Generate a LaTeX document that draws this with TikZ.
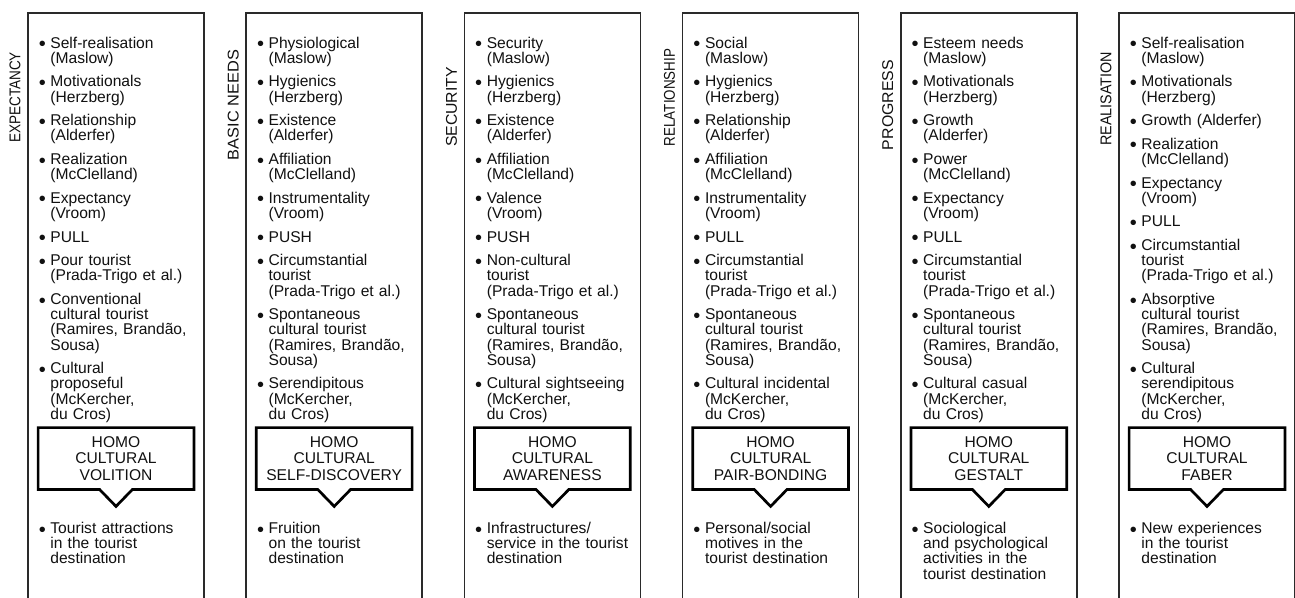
\documentclass[tikz,border=0pt]{standalone}
\usepackage{fontspec}
\usepackage{graphicx}
\setmainfont{Liberation Sans}
\usetikzlibrary{calc}
\definecolor{linegray}{HTML}{2A2A2A}
\definecolor{textc}{HTML}{111111}
\newcommand\nl{\hfil\break}
\newcommand\bul{\makebox[5.8pt][l]{\raisebox{-1.3pt}{\fontsize{10pt}{0pt}\selectfont\textbullet}}}
\newcommand\itmf[1]{\noindent\hangindent=5.8pt\hangafter=1\bul#1\par}
\newcommand\itm[1]{\vskip4.2pt\itmf{#1}}
\newcommand\itemfont{\fontsize{7.8pt}{7.6pt}\selectfont}
\newcommand\homofont{\fontsize{7.8pt}{8.15pt}\selectfont}
\tikzset{
  colline/.style={draw=linegray, line width=0.85pt},
  callout/.style={draw=black, line width=1.35pt, line join=miter},
  items/.style={inner sep=0pt, text width=82pt, font=\itemfont, anchor=north west, text=textc,
    execute at begin node={\setlength\parskip{0pt}\setlength\parindent{0pt}}},
  sidelabel/.style={rotate=90, anchor=center, inner sep=0pt, font=\itemfont, text=textc},
  homo/.style={minimum width=77.5pt, minimum height=30.5pt, inner sep=0pt, align=center, font=\homofont, text=textc}
}
\newcommand\mkcol[8]{%
  \pgfmathsetmacro\colL{#2}\pgfmathsetmacro\colR{#2+176}\pgfmathsetmacro\colC{#2+88}%
  \draw[colline] (\colL,598) -- (\colL,13) -- (\colR,13) -- (\colR,598);
  \node[sidelabel] (lab#1) at (\colL-13,#4) {\scalebox{#5}[1]{#3}};
  \node[items] (list#1) at (\colL+10.4,36.5) {#6};
  \node[homo] (homo#1) at (\colC,458.5) {#7};
  \draw[callout] (homo#1.north west) -- (homo#1.north east) -- (homo#1.south east)
    -- ($(homo#1.south)+(16.5,0)$) -- ($(homo#1.south)+(0,17)$) -- ($(homo#1.south)+(-16.5,0)$)
    -- (homo#1.south west) -- cycle;
  \node[items] (out#1) at (\colL+10.4,521.8) {#8};
}
\begin{document}
\begin{tikzpicture}[x=0.5pt,y=-0.5pt]
\useasboundingbox (0,0) rectangle (1295,598);
\fill[white] (0,0) rectangle (1295,598);
\mkcol{1}{28}{EXPECTANCY}{97.5}{0.866}{%
\itmf{Self-realisation\nl(Maslow)}
\itm{Motivationals\nl(Herzberg)}
\itm{Relationship\nl(Alderfer)}
\itm{Realization\nl(McClelland)}
\itm{Expectancy\nl(Vroom)}
\itm{PULL}
\itm{Pour tourist\nl(Prada-Trigo et al.)}
\itm{Conventional\nl cultural tourist\nl(Ramires, Brandão,\nl Sousa)}
\itm{Cultural\nl proposeful\nl(McKercher,\nl du Cros)}}%
{HOMO\\CULTURAL\\VOLITION}{\itmf{Tourist attractions\nl in the tourist\nl destination}}
\mkcol{2}{246.2}{BASIC NEEDS}{105}{1.049}{%
\itmf{Physiological\nl(Maslow)}
\itm{Hygienics\nl(Herzberg)}
\itm{Existence\nl(Alderfer)}
\itm{Affiliation\nl(McClelland)}
\itm{Instrumentality\nl(Vroom)}
\itm{PUSH}
\itm{Circumstantial\nl tourist\nl(Prada-Trigo et al.)}
\itm{Spontaneous\nl cultural tourist\nl(Ramires, Brandão,\nl Sousa)}
\itm{Serendipitous\nl(McKercher,\nl du Cros)}}%
{HOMO\\CULTURAL\\SELF-DISCOVERY}{\itmf{Fruition\nl on the tourist\nl destination}}
\mkcol{3}{464.4}{SECURITY}{107}{1.014}{%
\itmf{Security\nl(Maslow)}
\itm{Hygienics\nl(Herzberg)}
\itm{Existence\nl(Alderfer)}
\itm{Affiliation\nl(McClelland)}
\itm{Valence\nl(Vroom)}
\itm{PUSH}
\itm{Non-cultural\nl tourist\nl(Prada-Trigo et al.)}
\itm{Spontaneous\nl cultural tourist\nl(Ramires, Brandão,\nl Sousa)}
\itm{Cultural sightseeing\nl(McKercher,\nl du Cros)}}%
{HOMO\\CULTURAL\\AWARENESS}{\itmf{Infrastructures/\nl service in the tourist\nl destination}}
\mkcol{4}{682.6}{RELATIONSHIP}{97.5}{0.857}{%
\itmf{Social\nl(Maslow)}
\itm{Hygienics\nl(Herzberg)}
\itm{Relationship\nl(Alderfer)}
\itm{Affiliation\nl(McClelland)}
\itm{Instrumentality\nl(Vroom)}
\itm{PULL}
\itm{Circumstantial\nl tourist\nl(Prada-Trigo et al.)}
\itm{Spontaneous\nl cultural tourist\nl(Ramires, Brandão,\nl Sousa)}
\itm{Cultural incidental\nl(McKercher,\nl du Cros)}}%
{HOMO\\CULTURAL\\PAIR-BONDING}{\itmf{Personal/social\nl motives in the\nl tourist destination}}
\mkcol{5}{900.8}{PROGRESS}{105}{1.018}{%
\itmf{Esteem needs\nl(Maslow)}
\itm{Motivationals\nl(Herzberg)}
\itm{Growth\nl(Alderfer)}
\itm{Power\nl(McClelland)}
\itm{Expectancy\nl(Vroom)}
\itm{PULL}
\itm{Circumstantial\nl tourist\nl(Prada-Trigo et al.)}
\itm{Spontaneous\nl cultural tourist\nl(Ramires, Brandão,\nl Sousa)}
\itm{Cultural casual\nl(McKercher,\nl du Cros)}}%
{HOMO\\CULTURAL\\GESTALT}{\itmf{Sociological\nl and psychological\nl activities in the\nl tourist destination}}
\mkcol{6}{1119}{REALISATION}{99}{0.92}{%
\itmf{Self-realisation\nl(Maslow)}
\itm{Motivationals\nl(Herzberg)}
\itm{Growth (Alderfer)}
\itm{Realization\nl(McClelland)}
\itm{Expectancy\nl(Vroom)}
\itm{PULL}
\itm{Circumstantial\nl tourist\nl(Prada-Trigo et al.)}
\itm{Absorptive\nl cultural tourist\nl(Ramires, Brandão,\nl Sousa)}
\itm{Cultural\nl serendipitous\nl(McKercher,\nl du Cros)}}%
{HOMO\\CULTURAL\\FABER}{\itmf{New experiences\nl in the tourist\nl destination}}
\end{tikzpicture}
\end{document}
